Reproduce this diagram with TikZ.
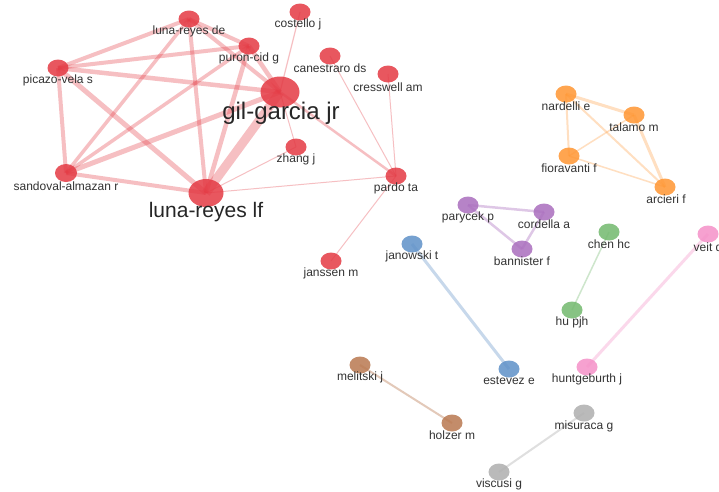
\documentclass[tikz,border=0pt]{standalone}
\usepackage{fontspec}
\setmainfont{Liberation Sans}
\usetikzlibrary{shapes.geometric}
\pgfdeclarelayer{bg}
\pgfsetlayers{bg,main}
\definecolor{cred}{RGB}{228,58,68}
\definecolor{corange}{RGB}{255,150,50}
\definecolor{cpurple}{RGB}{170,110,190}
\definecolor{cblue}{RGB}{95,145,200}
\definecolor{cgreen}{RGB}{115,185,110}
\definecolor{cpink}{RGB}{245,145,200}
\definecolor{cbrown}{RGB}{185,120,80}
\definecolor{cgray}{RGB}{175,175,175}
\definecolor{txt}{RGB}{51,51,51}
\tikzset{
  nd/.style={ellipse, inner sep=0pt, minimum width=21pt, minimum height=17pt, draw=none, fill opacity=0.85},
  rn/.style={nd, fill=cred},
  on/.style={nd, fill=corange},
  pn/.style={nd, fill=cpurple},
  bn/.style={nd, fill=cblue},
  gn/.style={nd, fill=cgreen},
  kn/.style={nd, fill=cpink},
  wn/.style={nd, fill=cbrown},
  yn/.style={nd, fill=cgray},
  lbl/.style={inner sep=0pt, text=txt, font=\fontsize{12}{12}\selectfont},
  biglbl/.style={inner sep=0pt, text=black!85},
  re/.style={draw=cred, draw opacity=0.32},
  oe/.style={draw=corange, draw opacity=0.3},
  pe/.style={draw=cpurple, draw opacity=0.38},
  be/.style={draw=cblue, draw opacity=0.35},
  ge/.style={draw=cgreen, draw opacity=0.35},
  ke/.style={draw=cpink, draw opacity=0.35},
  we/.style={draw=cbrown, draw opacity=0.4},
  ye/.style={draw=cgray, draw opacity=0.4},
}
\begin{document}
\begin{tikzpicture}[x=1pt,y=-1pt]
\useasboundingbox (0,0) rectangle (719,491);
\clip (0,0) rectangle (719,491);
% red cluster nodes
\node[rn] (de) at (189,19) {};
\node[rn] (costello) at (300,12) {};
\node[rn] (puron) at (249,46) {};
\node[rn] (canestraro) at (330,56) {};
\node[rn] (picazo) at (58,68) {};
\node[rn] (cresswell) at (388,74) {};
\node[rn, minimum width=39pt, minimum height=31pt] (gil) at (280,92) {};
\node[rn] (zhang) at (296,147) {};
\node[rn] (pardo) at (396,176) {};
\node[rn, minimum width=22pt, minimum height=18pt] (sandoval) at (66,173) {};
\node[rn, minimum width=35pt, minimum height=28pt] (lf) at (206,193) {};
\node[rn] (janssen) at (331,261) {};
% other clusters
\node[on] (nardelli) at (566,94) {};
\node[on] (talamo) at (634,115) {};
\node[on] (fioravanti) at (569,156) {};
\node[on] (arcieri) at (665,187) {};
\node[pn] (parycek) at (468,205) {};
\node[pn] (cordella) at (544,212) {};
\node[pn] (bannister) at (522,249) {};
\node[gn] (chen) at (609,232) {};
\node[gn] (hu) at (572,310) {};
\node[kn] (veit) at (708,234) {};
\node[kn] (huntgeburth) at (587,367) {};
\node[bn] (janowski) at (412,244) {};
\node[bn] (estevez) at (509,369) {};
\node[wn] (melitski) at (360,365) {};
\node[wn] (holzer) at (452,423) {};
\node[yn] (misuraca) at (584,413) {};
\node[yn] (viscusi) at (499,472) {};
% labels
\node[lbl] (de-l) at (189,31) {luna-reyes de};
\node[lbl] (costello-l) at (298,24) {costello j};
\node[lbl] (puron-l) at (249,58) {puron-cid g};
\node[lbl] (canestraro-l) at (330,68) {canestraro ds};
\node[lbl] (picazo-l) at (58,80) {picazo-vela s};
\node[lbl] (cresswell-l) at (388,87) {cresswell am};
\node[biglbl, font=\fontsize{24}{24}\selectfont] (gil-l) at (281,113) {gil-garcia jr};
\node[lbl] (zhang-l) at (296,159) {zhang j};
\node[lbl] (pardo-l) at (396,188) {pardo ta};
\node[lbl] (sandoval-l) at (66,186) {sandoval-almazan r};
\node[biglbl, font=\fontsize{21}{21}\selectfont] (lf-l) at (206,212) {luna-reyes lf};
\node[lbl] (janssen-l) at (331,273) {janssen m};
\node[lbl] (nardelli-l) at (566,106) {nardelli e};
\node[lbl] (talamo-l) at (634,127) {talamo m};
\node[lbl] (fioravanti-l) at (569,168) {fioravanti f};
\node[lbl] (arcieri-l) at (666,199) {arcieri f};
\node[lbl] (parycek-l) at (468,217) {parycek p};
\node[lbl] (cordella-l) at (544,224) {cordella a};
\node[lbl] (bannister-l) at (522,261) {bannister f};
\node[lbl] (chen-l) at (609,244) {chen hc};
\node[lbl] (veit-l) at (708,247) {veit d};
\node[lbl] (hu-l) at (572,322) {hu pjh};
\node[lbl] (huntgeburth-l) at (587,379) {huntgeburth j};
\node[lbl] (janowski-l) at (412,256) {janowski t};
\node[lbl] (estevez-l) at (509,381) {estevez e};
\node[lbl] (melitski-l) at (360,377) {melitski j};
\node[lbl] (holzer-l) at (452,435) {holzer m};
\node[lbl] (misuraca-l) at (584,426) {misuraca g};
\node[lbl] (viscusi-l) at (499,484) {viscusi g};
% edges
\begin{pgfonlayer}{bg}
\fill[white] (0,0) rectangle (719,491);
\draw[re, line width=4pt] (de.center) -- (picazo.center);
\draw[re, line width=4pt] (de.center) -- (puron.center);
\draw[re, line width=4pt] (de.center) -- (gil.center);
\draw[re, line width=4pt] (de.center) -- (lf.center);
\draw[re, line width=3.5pt] (de.center) -- (sandoval.center);
\draw[re, line width=4pt] (picazo.center) -- (puron.center);
\draw[re, line width=4.5pt] (picazo.center) -- (gil.center);
\draw[re, line width=4pt] (picazo.center) -- (sandoval.center);
\draw[re, line width=5pt] (picazo.center) -- (lf.center);
\draw[re, line width=4.5pt] (puron.center) -- (gil.center);
\draw[re, line width=3.5pt] (puron.center) -- (sandoval.center);
\draw[re, line width=4.5pt] (puron.center) -- (lf.center);
\draw[re, line width=5pt] (sandoval.center) -- (gil.center);
\draw[re, line width=4pt] (sandoval.center) -- (lf.center);
\draw[re, line width=9pt] (gil.center) -- (lf.center);
\draw[re, line width=1.2pt] (costello.center) -- (gil.center);
\draw[re, line width=1pt] (gil.center) -- (zhang.center);
\draw[re, line width=2.5pt] (gil.center) -- (pardo.center);
\draw[re, line width=1pt] (canestraro.center) -- (pardo.center);
\draw[re, line width=1pt] (cresswell.center) -- (pardo.center);
\draw[re, line width=1pt] (zhang.center) -- (lf.center);
\draw[re, line width=1pt] (lf.center) -- (pardo.center);
\draw[re, line width=1pt] (pardo.center) -- (janssen.center);
\draw[oe, line width=3pt] (nardelli.center) -- (talamo.center);
\draw[oe, line width=2pt] (nardelli.center) -- (fioravanti.center);
\draw[oe, line width=2pt] (nardelli.center) -- (arcieri.center);
\draw[oe, line width=1.5pt] (talamo.center) -- (fioravanti.center);
\draw[oe, line width=3pt] (talamo.center) -- (arcieri.center);
\draw[oe, line width=1.5pt] (fioravanti.center) -- (arcieri.center);
\draw[pe, line width=2.5pt] (parycek.center) -- (cordella.center);
\draw[pe, line width=2.5pt] (parycek.center) -- (bannister.center);
\draw[pe, line width=2.5pt] (cordella.center) -- (bannister.center);
\draw[ge, line width=1.5pt] (chen.center) -- (hu.center);
\draw[ke, line width=3pt] (veit.center) -- (huntgeburth.center);
\draw[be, line width=3pt] (janowski.center) -- (estevez.center);
\draw[we, line width=2pt] (melitski.center) -- (holzer.center);
\draw[ye, line width=2pt] (misuraca.center) -- (viscusi.center);
\end{pgfonlayer}
\end{tikzpicture}
\end{document}
